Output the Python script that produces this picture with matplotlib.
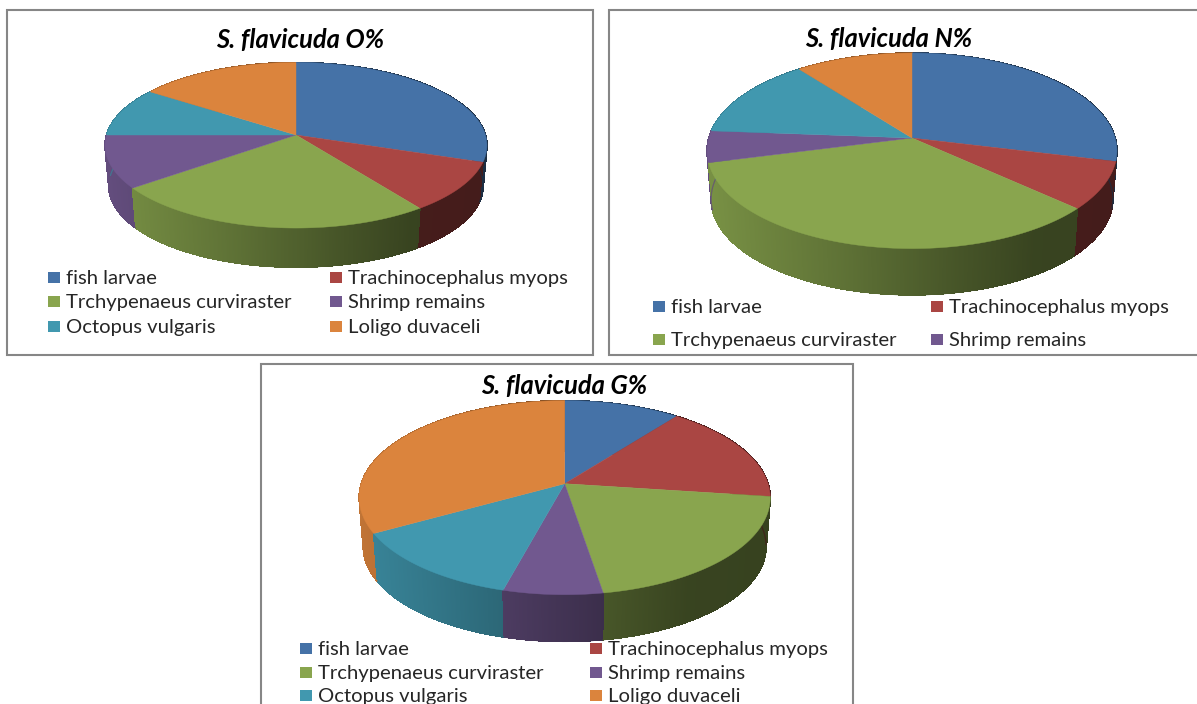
import numpy as np
import matplotlib as mpl
import matplotlib.pyplot as plt
from matplotlib.collections import LineCollection, PolyCollection
from matplotlib.colors import to_rgb
from matplotlib.patches import Rectangle

mpl.use('Agg')
plt.rcParams['font.family'] = ['Lato', 'DejaVu Sans']

categories = ['fish larvae', 'Trachinocephalus myops', 'Trchypenaeus curviraster',
              'Shrimp remains', 'Octopus vulgaris', 'Loligo duvaceli']
colors = ['#4572a7', '#aa4643', '#89a54e', '#71588f', '#4198af', '#db843d']

# percentage of each prey item
o_values = [30.2, 9.8, 24.7, 10.3, 9.6, 15.4]
n_values = [28.8, 7.9, 34.3, 5.2, 13.3, 10.5]
g_values = [10.5, 16.6, 20.3, 6.8, 12.7, 33.1]

# wall brightness from the left to the right edge of a pie
shade_pos = [0.0, 0.35, 0.6, 0.8, 1.0]
shade_val = [0.88, 0.68, 0.52, 0.41, 0.40]


def project(theta, cx, cy, rx, ry, k):
    # tilted disc seen in perspective, theta runs clockwise from 12 o'clock
    x, y = np.sin(theta), np.cos(theta)
    w = 1 + k * y
    return cx + rx * x / w, cy - ry * y / w


def draw_pie(ax, values, cx, cy, rx, ry, k, depth, shrink=0.98):
    edges = np.deg2rad(np.concatenate([[0], np.cumsum(values)]) * 360 / sum(values))
    half = rx / np.sqrt(1 - k ** 2)

    # side wall first, back to front, so the top covers the hidden part
    quads, quad_colors, rims, order = [], [], [], []
    for start, end, color in zip(edges[:-1], edges[1:], colors):
        base = np.array(to_rgb(color))
        th = np.linspace(start, end, max(int((end - start) * 180), 2) + 1)
        x, y = project(th, cx, cy, rx, ry, k)
        xb = cx + (x - cx) * shrink
        yb = cy + (y - cy) * shrink + depth
        for i in range(len(th) - 1):
            quads.append([(x[i], y[i]), (x[i + 1], y[i + 1]), (xb[i + 1], yb[i + 1]), (xb[i], yb[i])])
            rims.append([(xb[i], yb[i]), (xb[i + 1], yb[i + 1])])
            t = (0.5 * (x[i] + x[i + 1]) - (cx - half)) / (2 * half)
            quad_colors.append(base * np.interp(t, shade_pos, shade_val))
            order.append(np.cos(th[i]))
    idx = np.argsort(order)[::-1]
    shades = [quad_colors[i] for i in idx]
    # no antialiasing inside the wall, it leaves stripes between the strips
    ax.add_collection(PolyCollection([quads[i] for i in idx], facecolors=shades, edgecolors=shades,
                                     linewidths=0.5, antialiaseds=False, zorder=1))
    ax.add_collection(LineCollection([rims[i] for i in idx], colors=shades, linewidths=0.8, zorder=1))

    for start, end, color in zip(edges[:-1], edges[1:], colors):
        th = np.linspace(start, end, 200)
        x, y = project(th, cx, cy, rx, ry, k)
        ax.fill(np.r_[cx, x], np.r_[cy, y], facecolor=color, edgecolor=color, linewidth=0.3, zorder=1)


def draw_legend(ax, labels, col_x, row_y):
    # entries fill the rows left to right, two per row
    for i, label in enumerate(labels):
        x = col_x[i % 2]
        y = row_y[i // 2]
        ax.add_patch(Rectangle((x, y - 5.5), 12, 11.5, facecolor=colors[i], edgecolor='none'))
        ax.text(x + 18.5, y, label, fontsize=14.6, color='#262626', va='center_baseline', ha='left')


def draw_frame(ax, left, top, right, bottom):
    ax.add_patch(Rectangle((left, top), right - left, bottom - top,
                           facecolor='white', edgecolor='#868686', linewidth=1.5, zorder=0))


def main():
    fig = plt.figure(figsize=(11.97, 7.04), dpi=100)
    ax = fig.add_axes([0, 0, 1, 1])
    ax.set_xlim(0, 1197)
    ax.set_ylim(704, 0)
    ax.axis('off')

    title_style = dict(fontsize=18.4, fontweight='bold', fontstyle='italic', ha='center', va='center', color='black')

    # oxygen panel, top left
    draw_frame(ax, 7, 10, 593, 355)
    draw_pie(ax, o_values, 296, 135, 189.5, 81.5, 0.124, 41)
    ax.text(300, 40, 'S. flavicuda O%', **title_style)
    draw_legend(ax, categories, (48, 330), (277, 301, 326))

    # N panel, runs past the right edge
    draw_frame(ax, 609, 10, 1215, 355)
    draw_pie(ax, n_values, 912, 138, 203.2, 96.1, 0.131, 48.5)
    ax.text(889, 39, 'S. flavicuda N%', **title_style)
    draw_legend(ax, categories[:4], (652.5, 930.5), (306, 339))

    # G panel, bottom centre, runs past the bottom edge
    draw_frame(ax, 261, 364, 853, 720)
    draw_pie(ax, g_values, 564.7, 483.7, 203.4, 95, 0.144, 49)
    ax.text(564, 386, 'S. flavicuda G%', **title_style)
    draw_legend(ax, categories, (300, 590), (648, 672, 695))

    fig.savefig('out.png', dpi=100, facecolor='white')


if __name__ == '__main__':
    main()
